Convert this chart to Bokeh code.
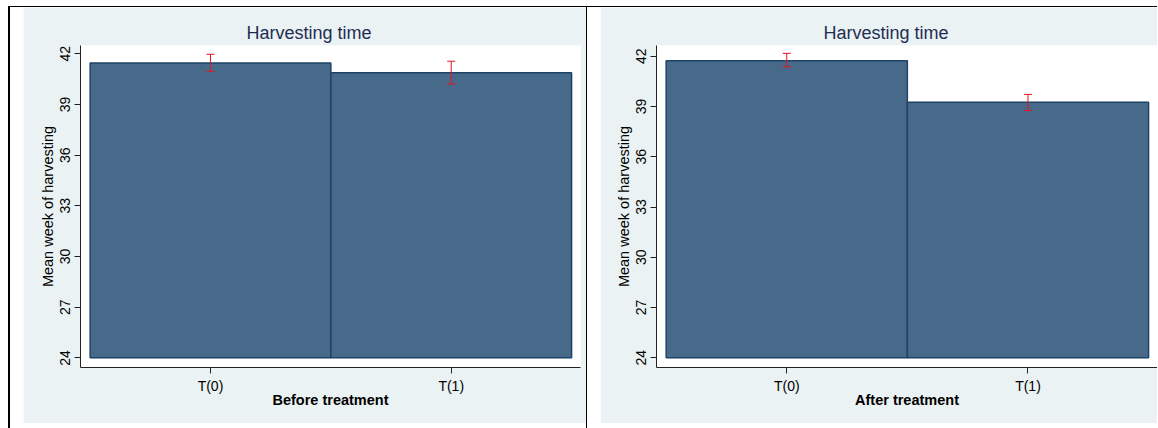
from bokeh.plotting import figure
from bokeh.models import Range1d, FixedTicker, Whisker, TeeHead, ColumnDataSource, Div, Spacer
from bokeh.layouts import row, column
from bokeh.embed import file_html
from bokeh.resources import INLINE

# ---- data ----
categories = ["T(0)", "T(1)"]
before_mean = [41.46, 40.88]
before_lower = [40.96, 40.22]
before_upper = [41.97, 41.56]
after_mean = [41.73, 39.25]
after_lower = [41.37, 38.76]
after_upper = [42.17, 39.72]
y_ticks = [24, 27, 30, 33, 36, 39, 42]
title_text = "Harvesting time"
y_label = "Mean week of harvesting"
x_labels = ["Before treatment", "After treatment"]

BG = "#eaf2f3"
FONT = "Liberation Sans"
RED = "#e8141c"
PH = 416


def make_panel(width, mb_left, mb_right, yr, means, lower, upper, xlabel, toff):
    p = figure(width=width, height=PH, output_backend="svg", toolbar_location=None,
               x_range=Range1d(-0.54, 1.537), y_range=Range1d(*yr),
               min_border_left=mb_left, min_border_right=mb_right,
               min_border_top=38, min_border_bottom=56,
               background_fill_color="white", border_fill_color=BG,
               outline_line_color=None, margin=0)
    p.title.text = title_text
    p.title.align = "left"
    p.title.offset = toff
    p.title.standoff = 5
    p.title.text_font = FONT
    p.title.text_font_size = "18px"
    p.title.text_font_style = "normal"
    p.title.text_color = "#1f2d54"

    xs = list(range(len(categories)))
    src = ColumnDataSource(dict(x=xs, top=means, lower=lower, upper=upper))
    p.vbar(x="x", top="top", bottom=y_ticks[0], width=1.0, source=src,
           fill_color="#486a8a", line_color="#1d4467", line_width=1.5)
    w = Whisker(source=src, base="x", upper="upper", lower="lower",
                line_color=RED, line_width=1, level="annotation",
                upper_head=TeeHead(size=8, line_color=RED, line_width=1),
                lower_head=TeeHead(size=8, line_color=RED, line_width=1))
    p.add_layout(w)

    p.xgrid.visible = False
    p.ygrid.visible = False

    p.xaxis.ticker = FixedTicker(ticks=xs)
    p.xaxis.major_label_overrides = {i: c for i, c in enumerate(categories)}
    p.xaxis.minor_tick_line_color = None
    p.xaxis.axis_label = xlabel
    p.xaxis.axis_label_text_font_style = "bold"
    p.xaxis.axis_label_standoff = -5
    p.xaxis.major_label_standoff = 4

    p.yaxis.ticker = FixedTicker(ticks=y_ticks)
    p.yaxis.minor_tick_line_color = None
    p.yaxis.major_label_orientation = "vertical"
    p.yaxis.axis_label = y_label
    p.yaxis.axis_label_text_font_style = "normal"
    p.yaxis.axis_label_standoff = 2
    p.yaxis.major_label_standoff = 4

    for ax in (p.xaxis, p.yaxis):
        ax.axis_line_color = "#222222"
        ax.major_tick_line_color = "#222222"
        ax.major_tick_out = 6
        ax.major_tick_in = 0
        ax.major_label_text_font = FONT
        ax.major_label_text_font_size = "14px"
        ax.major_label_text_color = "black"
        ax.axis_label_text_font = FONT
        ax.axis_label_text_font_size = "14.5px"
        ax.axis_label_text_color = "black"
    return p


p1 = make_panel(563, 57, 6, (23.43, 42.49), before_mean, before_lower, before_upper, x_labels[0], 166)
p2 = make_panel(557, 56, 0, (23.42, 42.64), after_mean, after_lower, after_upper, x_labels[1], 167)


def bar(w, h, color):
    return Div(width=w, height=h, margin=0, styles={"background-color": color})


def gap(w, h):
    return Spacer(width=w, height=h, margin=0)


top_line = row(gap(8, 1), bar(1149, 1, "black"), spacing=0, margin=0)
body = row(bar(2, 421, "black"), gap(13, 421), p1,
           bar(1, 421, "black"), gap(13, 421), p2, spacing=0, margin=0)
layout = column(gap(8, 6), top_line, row(gap(8, 421), body, spacing=0, margin=0),
                spacing=0, margin=0)

open("out.html", "w").write(file_html(layout, INLINE))
